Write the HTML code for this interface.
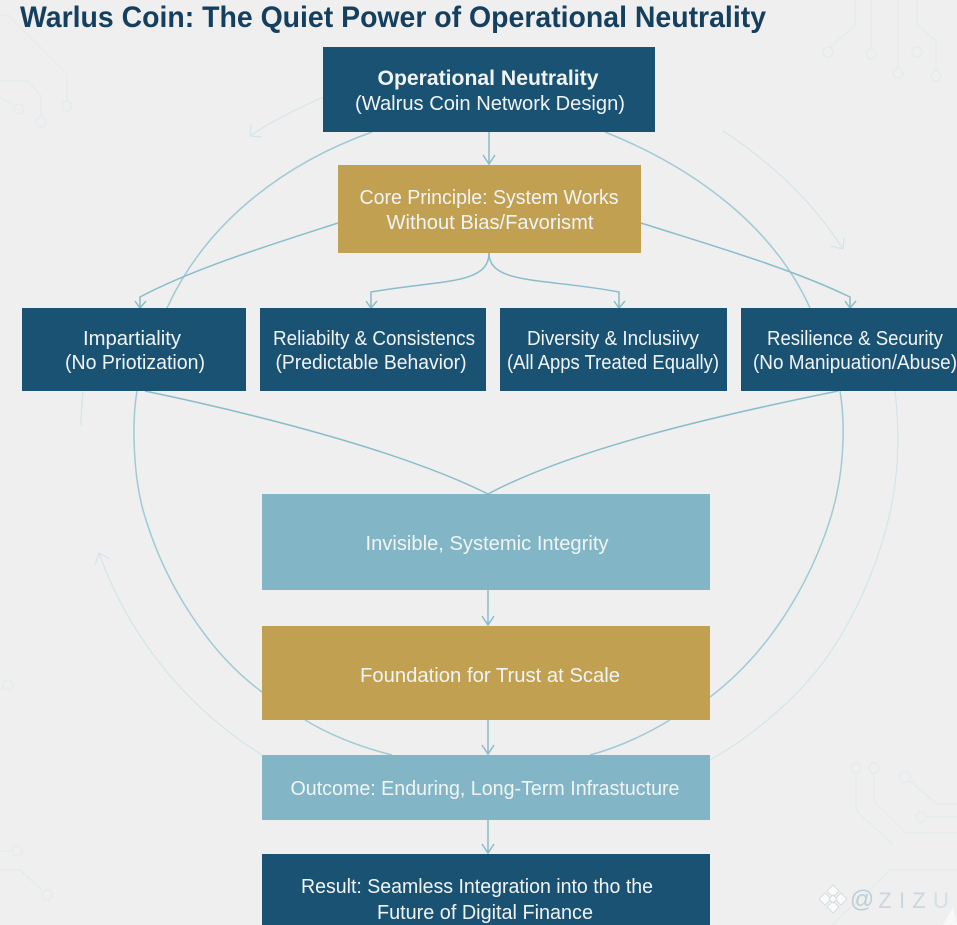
<!DOCTYPE html>
<html lang="en">
<head>
<meta charset="utf-8">
<title>Warlus Coin: The Quiet Power of Operational Neutrality</title>
<style>
html,body{margin:0;padding:0;background:#efefef;}
body{width:957px;height:925px;overflow:hidden;}
svg{display:block;}
text{font-family:"Liberation Sans",sans-serif;fill:#f1f4f5;text-anchor:middle;}
</style>
</head>
<body>
<svg xmlns="http://www.w3.org/2000/svg" width="957" height="925" viewBox="0 0 957 925">
<rect width="957" height="925" fill="#efefef"/>

<!-- faint circuit decoration -->
<g fill="none" stroke="#e2ebee" stroke-width="1.2">
  <path d="M0 15H8L67 74V100"/><circle cx="67" cy="106" r="5"/>
  <path d="M0 81H28L41 96V116"/><circle cx="41" cy="122" r="5"/>
  <path d="M0 97L13 105"/><circle cx="19" cy="109" r="5"/>
  <path d="M855 0V26L830 47"/><circle cx="828" cy="52" r="5"/>
  <path d="M871 0V48"/><circle cx="871" cy="54" r="5"/>
  <path d="M898 0V67"/><circle cx="898" cy="73" r="5"/>
  <path d="M917 0V24L936 41V70"/><circle cx="936" cy="76" r="5"/><circle cx="917" cy="52" r="5"/>
  <path d="M0 690L4 686"/><circle cx="8" cy="685" r="5"/>
  <path d="M0 851H11"/><circle cx="17" cy="851" r="5"/>
  <path d="M0 870H20L42 890"/><circle cx="47" cy="895" r="5"/>
  <circle cx="856" cy="768" r="5"/><path d="M856 773V810L894 846"/>
  <circle cx="874" cy="768" r="5"/><path d="M874 773V801L906 833H957"/>
  <circle cx="905" cy="777" r="5.5"/><path d="M910 781L937 804H957"/>
  <circle cx="921" cy="817" r="5"/><path d="M926 817H957"/>
  <path d="M832 925L890 870H957"/>
</g>

<!-- faint outer arcs -->
<g fill="none" stroke="#d3e5ea" stroke-width="1.2">
  <path d="M323 97C295 110 270 122 250 136"/>
  <path d="M250 136L251 124M250 136L262 137"/>
  <path d="M723 131C775 165 815 205 843 249"/>
  <path d="M843 249L844 238M843 249L831 246"/>
  <path d="M83 391C82 402 81 414 81 425"/>
  <path d="M262 755C190 710 130 640 99 553"/>
  <path d="M99 553L95 565M99 553L110 559"/>
  <path d="M895 391C899 425 899 465 893 497C884 550 860 610 827 657C800 695 755 735 710 760"/>
</g>

<!-- main arcs -->
<g fill="none" stroke="#9fcad6" stroke-width="1.5">
  <path d="M372 132C280 165 205 225 167 308"/>
  <path d="M605 132C700 170 775 230 810 308"/>
  <path d="M137 391C132 420 132 480 147 523C165 580 205 650 262 692"/>
  <path d="M305 720C330 735 360 747 392 755"/>
  <path d="M840 391C845 420 844 460 837 493C825 550 785 640 710 697"/>
  <path d="M670 720C645 735 620 747 590 755"/>
</g>

<!-- connectors -->
<g fill="none" stroke="#8abccb" stroke-width="1.5">
  <path d="M489 132V164M483 155L489 164L495 155"/>
  <path d="M338 223C270 245 195 268 140 297V308M135 301L140 308L146 301"/>
  <path d="M641 223C710 245 790 268 850 297V308M845 301L850 308L856 301"/>
  <path d="M489 253C489 285 440 280 371 292V308M366 301L371 308L377 301"/>
  <path d="M489 253C489 285 545 278 619 292V308M614 301L619 308L625 301"/>
  <path d="M145 391C250 413 400 450 488 494"/>
  <path d="M838 391C740 411 580 445 488 494"/>
  <path d="M488 590V625M482 616L488 625L494 616"/>
  <path d="M488 720V754M482 745L488 754L494 745"/>
  <path d="M488 820V853M482 844L488 853L494 844"/>
</g>

<!-- boxes -->
<rect x="323" y="47" width="332" height="85" fill="#1a5274"/>
<rect x="338" y="165" width="303" height="88" fill="#c2a052"/>
<rect x="22" y="308" width="224" height="83" fill="#1a5274"/>
<rect x="260" y="308" width="226" height="83" fill="#1a5274"/>
<rect x="500" y="308" width="227" height="83" fill="#1a5274"/>
<rect x="741" y="308" width="216" height="83" fill="#1a5274"/>
<rect x="262" y="494" width="448" height="96" fill="#82b6c6"/>
<rect x="262" y="626" width="448" height="94" fill="#c2a052"/>
<rect x="262" y="755" width="448" height="65" fill="#82b6c6"/>
<rect x="262" y="854" width="448" height="71" fill="#1a5274"/>

<!-- title -->
<text x="393" y="27" font-size="30" font-weight="700" textLength="746" lengthAdjust="spacingAndGlyphs" style="fill:#153f5f">Warlus Coin: The Quiet Power of Operational Neutrality</text>

<!-- labels -->
<g font-size="20">
  <text x="488" y="85" font-weight="700" font-size="21" textLength="221" lengthAdjust="spacingAndGlyphs">Operational Neutrality</text>
  <text x="490" y="110" textLength="270" lengthAdjust="spacingAndGlyphs">(Walrus Coin Network Design)</text>
  <text x="489" y="204" textLength="259" lengthAdjust="spacingAndGlyphs">Core Principle: System Works</text>
  <text x="490" y="229" textLength="207" lengthAdjust="spacingAndGlyphs">Without Bias/Favorismt</text>
  <text x="132" y="345" textLength="98" lengthAdjust="spacingAndGlyphs">Impartiality</text>
  <text x="135" y="369" textLength="140" lengthAdjust="spacingAndGlyphs">(No Priotization)</text>
  <text x="374" y="345" textLength="202" lengthAdjust="spacingAndGlyphs">Reliabilty &amp; Consistencs</text>
  <text x="371" y="369" textLength="191" lengthAdjust="spacingAndGlyphs">(Predictable Behavior)</text>
  <text x="613" y="345" textLength="172" lengthAdjust="spacingAndGlyphs">Diversity &amp; Inclusiivy</text>
  <text x="613" y="369" textLength="212" lengthAdjust="spacingAndGlyphs">(All Apps Treated Equally)</text>
  <text x="855" y="345" textLength="176" lengthAdjust="spacingAndGlyphs">Resilience &amp; Security</text>
  <text x="855" y="369" textLength="204" lengthAdjust="spacingAndGlyphs">(No Manipuation/Abuse)</text>
  <text x="487" y="550" textLength="243" lengthAdjust="spacingAndGlyphs">Invisible, Systemic Integrity</text>
  <text x="490" y="682" textLength="260" lengthAdjust="spacingAndGlyphs">Foundation for Trust at Scale</text>
  <text x="485" y="795" textLength="389" lengthAdjust="spacingAndGlyphs">Outcome: Enduring, Long-Term Infrastucture</text>
  <text x="477" y="893" textLength="352" lengthAdjust="spacingAndGlyphs">Result: Seamless Integration into tho the</text>
  <text x="485" y="919" textLength="216" lengthAdjust="spacingAndGlyphs">Future of Digital Finance</text>
</g>

<!-- watermark -->
<path d="M943 925L953 907L957 925Z" fill="#f8f8f8"/>
<g fill="#fbfbfb" stroke="#cdd8de" stroke-width="0.8">
  <path d="M833 885L839 891L833 897L827 891Z"/>
  <path d="M825 893L831 899L825 905L819 899Z"/>
  <path d="M841 893L847 899L841 905L835 899Z"/>
  <path d="M833 901L839 907L833 913L827 907Z"/>
  <path d="M833 895L837 899L833 903L829 899Z"/>
</g>
<text x="862" y="907" font-size="24" style="fill:#bccfd8">@</text>
<text x="885" y="908" font-size="22" style="fill:#c8d6dd">Z</text>
<text x="902" y="908" font-size="22" style="fill:#c8d6dd">I</text>
<text x="919" y="908" font-size="22" style="fill:#c8d6dd">Z</text>
<text x="941" y="908" font-size="22" style="fill:#d3dfe4">U</text>
</svg>
</body>
</html>
